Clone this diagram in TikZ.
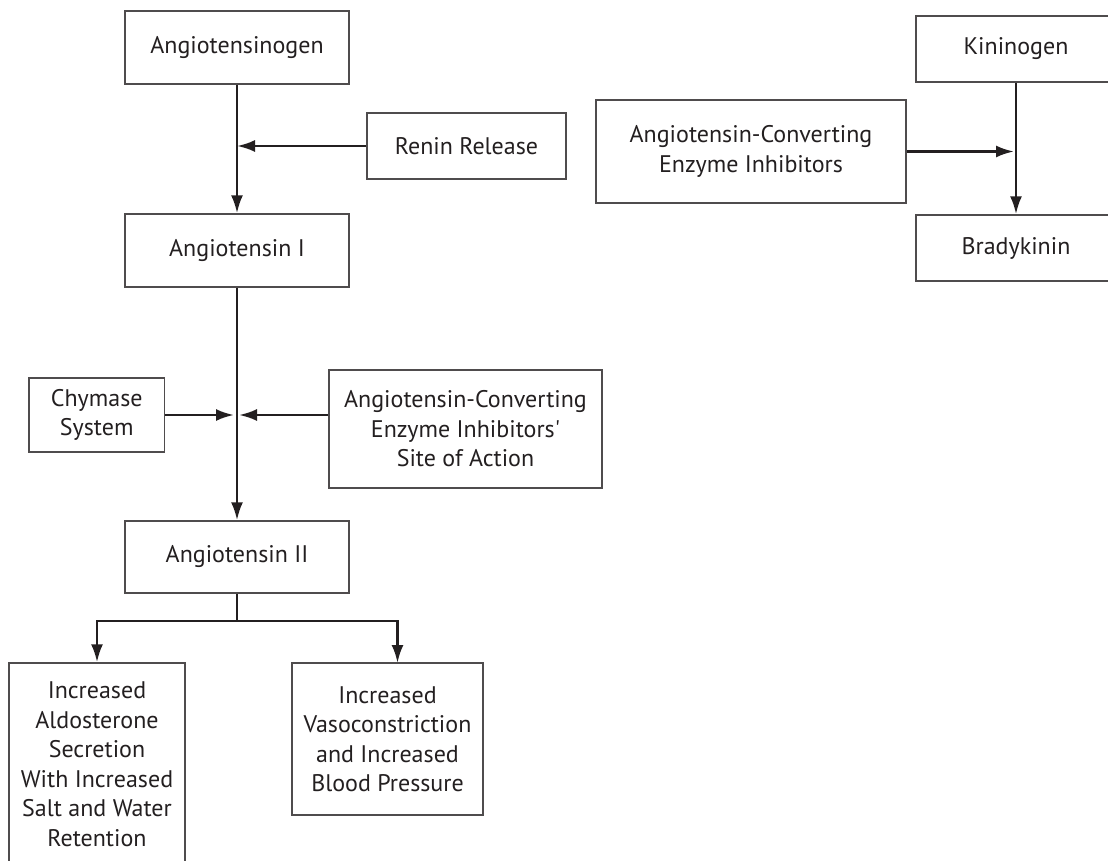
\documentclass[tikz,border=0pt]{standalone}
\usepackage{fontspec}
\newfontfamily\labelfont{PT Sans}[Ligatures=TeXOff]
\usetikzlibrary{arrows.meta}
\definecolor{ink}{RGB}{35,31,32}
\tikzset{
  >={Latex[length=9pt,width=6pt]},
}
\tikzstyle{box}=[draw=ink!80,line width=.7pt,align=center,inner sep=0pt]
\tikzstyle{conn}=[draw=ink,line width=1.3pt]
\tikzstyle{every node}=[font=\labelfont\fontsize{12}{14.75}\selectfont,text=ink]

\begin{document}
\begin{tikzpicture}[x=.5pt,y=-.5pt]
    \useasboundingbox (0,0) rectangle (1108,861);
    \node[box,minimum width=112pt,minimum height=36.5pt] (agen) at (237,47.5) {Angiotensinogen};
    \node[box,minimum width=99.5pt,minimum height=33pt] (renin) at (466.5,146) {Renin Release};
    \node[box,minimum width=112pt,minimum height=36.5pt] (ang1) at (237,250.5) {Angiotensin I};
    \node[box,minimum width=67.75pt,minimum height=37pt] (chym) at (96.75,415) {Chymase\\System};
    \node[box,minimum width=136.5pt,minimum height=59pt] (site) at (465.5,429) {Angiotensin-Converting\\Enzyme Inhibitors\textquotesingle\\Site of Action};
    \node[box,minimum width=112pt,minimum height=36pt] (ang2) at (237,557) {Angiotensin II};
    \node[box,minimum width=88pt,minimum height=101pt] (aldo) at (97,764) {Increased\\Aldosterone\\Secretion\\With Increased\\Salt and Water\\Retention};
    \node[box,minimum width=95.5pt,minimum height=76pt] (vaso) at (387.5,739) {Increased\\Vasoconstriction\\and Increased\\Blood Pressure};
    \node[box,minimum width=100pt,minimum height=33pt] (kin) at (1016,49) {Kininogen};
    \node[box,minimum width=155pt,minimum height=51.5pt] (acei) at (751,151.5) {Angiotensin-Converting\\Enzyme Inhibitors};
    \node[box,minimum width=100pt,minimum height=33pt] (brady) at (1016,248) {Bradykinin};
    \coordinate (fork) at (237,621);
    \coordinate (vasotop) at (397.5,663);

    \draw[conn,->] (agen) -- (ang1);
    \draw[conn,->] (renin.west) -- (renin.west -| agen.south);
    \draw[conn,->] (ang1) -- (ang2);
    \draw[conn,->,shorten >=1.5pt] (chym.east) -- (chym.east -| ang1.south);
    \draw[conn,->,shorten >=1pt] (chym.east -| site.west) -- (chym.east -| ang1.south);
    \draw[conn] (ang2) -- (fork);
    \draw[conn,->] (fork) -| (aldo);
    \draw[conn,->] (fork) -| (vasotop);
    \draw[conn,->] (kin) -- (brady);
    \draw[conn,->,shorten >=1pt] (acei.east) -- (acei.east -| kin.south);
\end{tikzpicture}
\end{document}
